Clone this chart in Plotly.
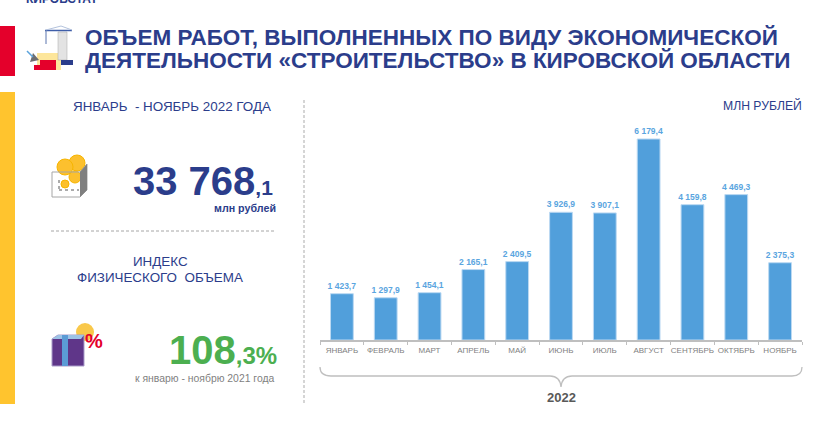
import plotly.graph_objects as go

W, H = 832, 432

months = ["ЯНВАРЬ", "ФЕВРАЛЬ", "МАРТ", "АПРЕЛЬ", "МАЙ", "ИЮНЬ", "ИЮЛЬ", "АВГУСТ", "СЕНТЯБРЬ", "ОКТЯБРЬ", "НОЯБРЬ"]
values = [1423.7, 1297.9, 1454.1, 2165.1, 2409.5, 3926.9, 3907.1, 6179.4, 4159.8, 4469.3, 2375.3]
value_labels = ["1 423,7", "1 297,9", "1 454,1", "2 165,1", "2 409,5", "3 926,9", "3 907,1", "6 179,4", "4 159,8", "4 469,3", "2 375,3"]

NAVY = "#2b3d8b"
BLUE = "#519fdb"
FONT = "Liberation Sans"


# pixel helpers, everything decorative on the slide is placed in page pixels
def X(px):
    return px / W


def Y(py):
    return 1 - py / H


def path(d, fill=None, line=None, width=1, dash=None):
    # d is a list of (cmd, x, y) in page pixels
    s = ""
    for item in d:
        if item == "Z":
            s += "Z"
        elif item[0] == "Q":
            s += f"Q{X(item[1])},{Y(item[2])} {X(item[3])},{Y(item[4])}"
        else:
            s += f"{item[0]}{X(item[1])},{Y(item[2])}"
    return dict(type="path", xref="paper", yref="paper", path=s, fillcolor=fill or "rgba(0,0,0,0)",
                line=dict(color=line or "rgba(0,0,0,0)", width=width, dash=dash or "solid"))


def rect(x0, y0, x1, y1, fill, line=None, width=1):
    return dict(type="rect", xref="paper", yref="paper", x0=X(x0), x1=X(x1), y0=Y(y0), y1=Y(y1), fillcolor=fill,
                line=dict(color=line or "rgba(0,0,0,0)", width=width))


def circle(cx, cy, r, fill, line=None):
    return dict(type="circle", xref="paper", yref="paper", x0=X(cx - r), x1=X(cx + r), y0=Y(cy - r), y1=Y(cy + r),
                fillcolor=fill, line=dict(color=line or "rgba(0,0,0,0)", width=1))


def seg(x0, y0, x1, y1, color, width=1, dash="solid"):
    return dict(type="line", xref="paper", yref="paper", x0=X(x0), x1=X(x1), y0=Y(y0), y1=Y(y1),
                line=dict(color=color, width=width, dash=dash))


def label(x, y, text, size, color, bold=False, anchor="left", valign="middle"):
    if bold:
        text = f"<b>{text}</b>"
    return dict(xref="paper", yref="paper", x=X(x), y=Y(y), text=text, showarrow=False, xanchor=anchor, yanchor=valign,
                font=dict(family=FONT, size=size, color=color), borderpad=0, borderwidth=0)


shapes = [
    rect(0, 26, 15, 76, "#e4002b"),
    rect(0, 92, 15, 404, "#ffc42e"),
    seg(304, 100, 304, 404, "#bfbfbf", 1.3, "3px,2px"),
    seg(51, 231, 276, 231, "#a6a6a6", 1, "3px,2px"),
    # bracket under the months
    path([("M", 320, 367), ("Q", 320, 376, 331, 376), ("L", 550, 376), ("Q", 560, 376, 561, 387),
          ("Q", 562, 376, 572, 376), ("L", 792, 376), ("Q", 802, 376, 802, 367)], line="#bfbfbf", width=1.3),
    # crane icon
    rect(37, 53, 61, 70, "#fde69b"),
    rect(58, 32, 67, 60, "#e3e3e3", "#a6a6a6", 0.5),
    seg(45, 30.5, 72, 30.5, "#3f5ea8", 1.5),
    seg(46, 30, 61, 26, "#b4c3dd", 1),
    seg(61, 26, 72, 30, "#b4c3dd", 1),
    seg(46, 30, 46, 44, "#5b74ae", 1),
    path([("M", 33, 53), ("L", 39, 60), ("L", 30, 62), "Z"], fill="#6d6e71"),
    seg(27, 51, 33, 57, "#5ba3dc", 1.5),
    rect(34, 65, 56, 70, "#e4002b"),
    rect(40, 60, 56, 65, "#e4002b"),
    rect(61, 60, 73, 65, "#2b3d8b"),
    # box of coins icon
    circle(77, 163, 8, "#fcc02e", "#f7b500"),
    circle(65, 167, 8, "#fcc02e", "#f7b500"),
    circle(75, 177, 6, "#fcc02e", "#f7b500"),
    circle(65, 184, 4, "#fcc02e", "#f7b500"),
    path([("M", 52, 172), ("L", 80, 172), ("L", 87, 164), ("L", 87, 190), ("L", 80, 197), ("L", 52, 197), "Z"],
         line="#a6a6a6", width=1),
    path([("M", 80, 172), ("L", 87, 164), ("L", 87, 190), ("L", 80, 197), "Z"], fill="#7f7f7f"),
    seg(59, 180, 59, 190, "#595959", 1, "dot"),
    seg(59, 190, 79, 190, "#595959", 1, "dot"),
    # gift icon
    circle(85, 332, 9, "#f9c84a"),
    path([("M", 52, 339), ("L", 58, 335), ("L", 84, 335), ("L", 84, 366), ("L", 52, 366), "Z"], fill="#5f3689", line="#a99bc9"),
    path([("M", 52, 339), ("L", 58, 335), ("L", 84, 335), ("L", 81, 339), "Z"], fill="#9dc3e6"),
    rect(62, 335, 68, 366, "#5b9bd5"),
]

annotations = [
    label(26, 6, "КИРОВСТАТ", 12, NAVY, True, valign="bottom"),
    label(85, 37.5, "ОБЪЕМ РАБОТ, ВЫПОЛНЕННЫХ ПО ВИДУ ЭКОНОМИЧЕСКОЙ", 22.5, NAVY, True),
    label(85, 60.5, "ДЕЯТЕЛЬНОСТИ «СТРОИТЕЛЬСТВО» В КИРОВСКОЙ ОБЛАСТИ", 22.5, NAVY, True),
    label(171.5, 107, "ЯНВАРЬ  - НОЯБРЬ 2022 ГОДА", 13.4, NAVY, anchor="center"),
    label(802, 105, "МЛН РУБЛЕЙ", 12.2, NAVY, anchor="right"),
    label(273, 181, "33 768<span style=\"font-size:21px\">,1</span>", 40, NAVY, True, anchor="right"),
    label(276, 208, "млн рублей", 10.7, NAVY, True, anchor="right"),
    label(160, 261, "ИНДЕКС", 13.4, NAVY, anchor="center"),
    label(160, 277, "ФИЗИЧЕСКОГО  ОБЪЕМА", 13.4, NAVY, anchor="center"),
    label(94, 341, "%", 20, "#e4002b", True, anchor="center"),
    label(277, 350, "108<span style=\"font-size:24px\">,3%</span>", 40, "#4caf50", True, anchor="right"),
    label(275, 378, "к январю - ноябрю 2021 года", 10.4, "#7f7f7f", anchor="right"),
    label(561, 397, "2022", 13, "#595959", True, anchor="center"),
]

fig = go.Figure()
fig.add_trace(go.Bar(x=months, y=values, text=value_labels, textposition="outside", cliponaxis=False, constraintext="none",
                     textfont=dict(family=FONT, size=8.5, color="#5aa5e0", weight="bold"), width=0.52,
                     marker=dict(color=BLUE, line=dict(color="#bcd9f2", width=1))))
fig.update_layout(width=W, height=H, margin=dict(l=0, r=0, t=0, b=0), autosize=False, showlegend=False,
                  paper_bgcolor="white", plot_bgcolor="white", shapes=shapes, annotations=annotations,
                  font=dict(family=FONT), bargap=0.48)
fig.update_xaxes(domain=[320 / W, 802 / W], tickson="boundaries", ticks="outside", ticklen=3, tickcolor="#bfbfbf",
                 showline=True, linecolor="#bfbfbf", linewidth=1.5, showgrid=False, tickangle=0, ticklabelstandoff=2,
                 tickfont=dict(family=FONT, size=8, color="#7f7f7f"))
fig.update_yaxes(domain=[Y(340), Y(100)], range=[0, 7378], visible=False)
fig.write_html("out.html", config=dict(displayModeBar=False), post_script="document.body.style.margin='0';")
